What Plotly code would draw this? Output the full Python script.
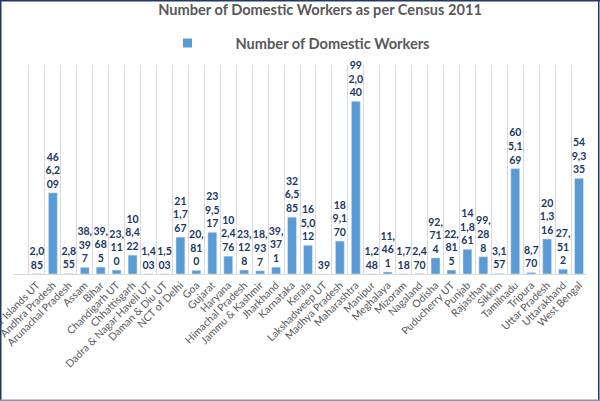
import plotly.graph_objects as go

states = [
    "Andaman & Nicobar Islands UT", "Andhra Pradesh", "Arunachal Pradesh", "Assam", "Bihar",
    "Chandigarh UT", "Chhattisgarh", "Dadra & Nagar Haveli UT", "Daman & Diu UT", "NCT of Delhi",
    "Goa", "Gujarat", "Haryana", "Himachal Pradesh", "Jammu & Kashmir", "Jharkhand", "Karnataka",
    "Kerala", "Lakshadweep UT", "Madhya Pradesh", "Maharashtra", "Manipur", "Meghalaya", "Mizoram",
    "Nagaland", "Odisha", "Puducherry UT", "Punjab", "Rajasthan", "Sikkim", "Tamilnadu", "Tripura",
    "Uttar Pradesh", "Uttarakhand", "West Bengal",
]
workers = [
    2085, 466209, 2855, 38397, 39685,
    23110, 108422, 1403, 1503, 211767,
    20810, 239517, 102476, 23128, 18937, 39371, 326585,
    165012, 39, 189170, 992040, 1248, 11461, 1718,
    2470, 92714, 22815, 141861, 99288, 3157, 605169, 8770,
    201316, 27512, 549335,
]

SERIES = "Number of Domestic Workers"
TITLE = "Number of Domestic Workers as per Census 2011"

BAR = "#5B9BD5"
GREY = "#595959"
NAVY = "#203864"
FONT = "Lato"


def wrap(n):
    s = f"{n:,}"
    lines, cur, w = [], "", 0.0
    for ch in s:
        cw = 2.5 if ch == "," else 5.5
        if cur and w + cw > 14:
            lines.append(cur)
            cur, w = "", 0.0
        cur += ch
        w += cw
    lines.append(cur)
    return "<br>".join(lines)


labels = [wrap(v) for v in workers]

W, H = 600, 401
L, R, T, B = 13, 13, 65, 127
pw, ph = W - L - R, H - T - B


def px(x):
    return (x - L) / pw


def py(y):
    return (H - B - y) / ph


fig = go.Figure()
fig.add_trace(go.Bar(
    x=states, y=workers, name=SERIES, marker_color=BAR,
    text=labels, textposition="outside", constraintext="none", cliponaxis=False,
    textfont=dict(family=FONT, size=10.5, color=NAVY, weight="bold"),
    showlegend=False,
))
fig.add_trace(go.Scatter(
    x=[None], y=[None], mode="markers", name=SERIES,
    marker=dict(symbol="square", size=9, color=BAR),
))

fig.update_layout(
    width=W, height=H,
    margin=dict(l=L, r=R, t=T, b=B, autoexpand=False),
    paper_bgcolor="white", plot_bgcolor="white",
    font=dict(family=FONT, color=GREY),
    bargap=0.44,
    title=dict(text=TITLE, x=320 / W, xanchor="center", xref="container",
               y=1 - 10 / H, yanchor="middle", yref="container",
               font=dict(family=FONT, size=14.6, color=GREY, weight="bold")),
    legend=dict(orientation="h", x=px(139.5), xanchor="left", y=py(43), yanchor="middle",
                itemwidth=86, font=dict(family=FONT, size=14.6, color=GREY, weight="bold"),
                bgcolor="rgba(0,0,0,0)"),
    xaxis=dict(type="category", range=[-1.5, len(states) - 0.5], tickson="boundaries",
               showgrid=True, gridcolor="#D9D9D9", gridwidth=1,
               showline=True, linecolor="#D9D9D9", linewidth=1,
               ticks="", tickangle=-45, tickfont=dict(family=FONT, size=10.5, color=GREY),
               automargin=False, fixedrange=True),
    yaxis=dict(range=[0, 1200000], showgrid=False, showticklabels=False, zeroline=False,
               showline=False, ticks="", fixedrange=True),
    shapes=[
        dict(type="line", xref="paper", yref="paper", x0=px(0.75), x1=px(0.75), y0=py(0), y1=py(401),
             line=dict(color="#1F3864", width=1.5)),
        dict(type="line", xref="paper", yref="paper", x0=px(0), x1=px(600), y0=py(0.75), y1=py(0.75),
             line=dict(color="#1F3864", width=1.5)),
        dict(type="line", xref="paper", yref="paper", x0=px(598.75), x1=px(598.75), y0=py(0), y1=py(401),
             line=dict(color="#1F3864", width=1.5)),
        dict(type="line", xref="paper", yref="paper", x0=px(0), x1=px(600), y0=py(400.25), y1=py(400.25),
             line=dict(color="#8497B0", width=1.5)),
    ],
)

fig.write_html("out.html", config={"displayModeBar": False},
               post_script="document.body.style.margin='0';")
